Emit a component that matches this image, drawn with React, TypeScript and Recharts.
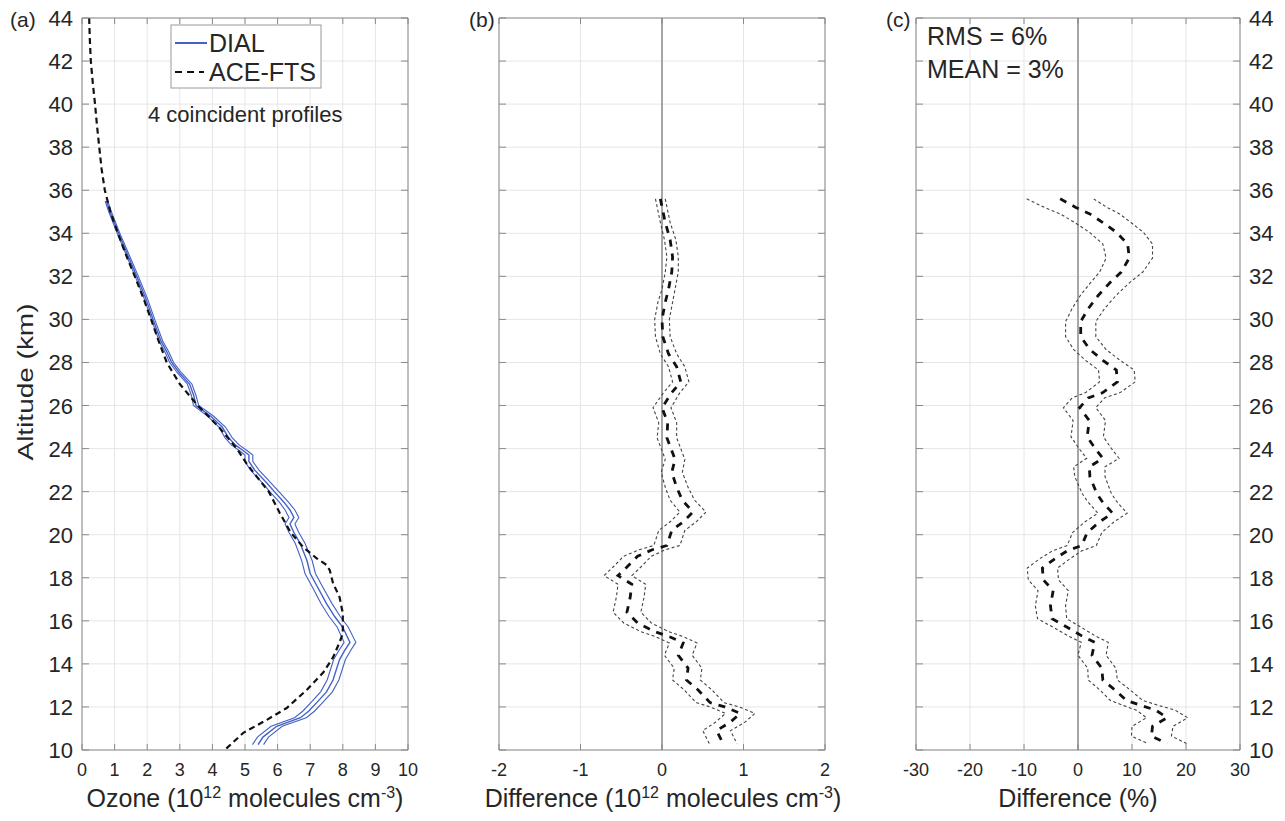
import React from 'react';
import { LineChart, Line, XAxis, YAxis, CartesianGrid, ReferenceLine } from 'recharts';

// ACE-FTS ozone profile (10^12 molecules cm^-3) vs altitude (km)
const aceAlt = [44, 43, 42, 41, 40, 39, 38, 37, 36, 35, 34, 33, 32, 31, 30, 29, 28, 27, 26, 25, 24, 23.3, 22.7, 22, 21, 20.1, 19.75, 19.4, 18.9, 18.6, 18.35, 17.75, 17.1, 16.35, 15.4, 15, 14.3, 13.6, 12.8, 11.95, 11.4, 10.8, 10.1, 10];
const aceOzone = [0.22, 0.24, 0.27, 0.33, 0.4, 0.46, 0.53, 0.6, 0.7, 0.87, 1.1, 1.35, 1.62, 1.88, 2.12, 2.35, 2.6, 3.0, 3.55, 4.2, 4.75, 5.05, 5.36, 5.73, 6.07, 6.4, 6.6, 6.8, 7.2, 7.5, 7.6, 7.7, 7.9, 8.0, 8.0, 7.9, 7.7, 7.4, 6.9, 6.28, 5.67, 4.95, 4.45, 4.4];

// DIAL mean profile and its uncertainty
const dialAlt = [35.5, 35, 34, 33, 32, 31, 30, 29, 28.5, 28, 27.5, 27, 26.5, 26, 25.5, 25, 24.5, 24.17, 23.9, 23.7, 23.4, 23, 22.4, 22, 21.5, 21.15, 20.8, 20.5, 20.1, 19.6, 18.8, 18.2, 17.5, 16.8, 16.2, 15.7, 15, 14.6, 14.2, 13.25, 12.7, 12.2, 11.8, 11.5, 11.1, 10.6, 10.25];
const dialOzone = [0.75, 0.86, 1.12, 1.4, 1.68, 1.95, 2.18, 2.42, 2.6, 2.75, 3.0, 3.3, 3.42, 3.5, 3.95, 4.3, 4.5, 4.7, 4.95, 5.12, 5.12, 5.3, 5.67, 5.9, 6.2, 6.38, 6.5, 6.38, 6.5, 6.69, 6.9, 7.0, 7.25, 7.5, 7.75, 8.0, 8.22, 8.05, 7.9, 7.7, 7.5, 7.2, 6.95, 6.7, 5.97, 5.55, 5.4];
const dialErr = [0.04, 0.04, 0.04, 0.045, 0.05, 0.05, 0.05, 0.055, 0.06, 0.06, 0.065, 0.07, 0.07, 0.08, 0.09, 0.1, 0.11, 0.12, 0.12, 0.12, 0.12, 0.13, 0.13, 0.14, 0.14, 0.15, 0.15, 0.15, 0.15, 0.15, 0.16, 0.16, 0.16, 0.17, 0.17, 0.17, 0.18, 0.18, 0.18, 0.18, 0.18, 0.18, 0.18, 0.18, 0.17, 0.17, 0.17];

// absolute difference DIAL - ACE-FTS
const diffAlt = [35.6, 34.5, 33.7, 32.9, 32.2, 31.4, 30.8, 30.0, 29.2, 28.4, 27.8, 27.1, 26.6, 25.9, 25.2, 24.5, 23.5, 22.9, 22.2, 21.6, 21.05, 20.6, 20.2, 19.5, 19.3, 19.0, 18.5, 18.1, 17.7, 17.1, 16.4, 15.9, 15.5, 15.25, 14.97, 14.4, 13.8, 13.25, 12.8, 12.2, 12.0, 11.7, 11.3, 10.9, 10.3];
const diffAbs = [-0.02, 0.04, 0.1, 0.13, 0.12, 0.08, 0.04, 0.0, 0.01, 0.08, 0.18, 0.23, 0.12, 0.0, 0.07, 0.06, 0.16, 0.12, 0.18, 0.25, 0.38, 0.26, 0.12, 0.06, -0.12, -0.3, -0.43, -0.54, -0.37, -0.39, -0.43, -0.3, -0.09, 0.1, 0.26, 0.2, 0.32, 0.3, 0.44, 0.59, 0.77, 0.96, 0.84, 0.67, 0.75];
const diffErr = [0.06, 0.06, 0.07, 0.07, 0.08, 0.08, 0.09, 0.09, 0.09, 0.1, 0.1, 0.1, 0.1, 0.11, 0.11, 0.12, 0.12, 0.13, 0.14, 0.15, 0.16, 0.16, 0.16, 0.16, 0.16, 0.17, 0.17, 0.17, 0.17, 0.17, 0.17, 0.17, 0.17, 0.17, 0.17, 0.17, 0.17, 0.17, 0.17, 0.17, 0.18, 0.18, 0.18, 0.17, 0.17];

// relative difference (%)
const pctAlt = [35.6, 35.2, 34.9, 34.5, 34.05, 33.5, 32.85, 32.2, 31.7, 31.1, 30.5, 29.9, 29.2, 28.6, 28.1, 27.65, 27.1, 26.6, 26.35, 25.9, 25.3, 24.55, 24.0, 23.55, 23.15, 22.7, 21.9, 21.5, 21.0, 20.6, 20.1, 19.5, 19.25, 18.9, 18.45, 17.9, 17.4, 16.7, 16.1, 15.7, 15.3, 15.0, 14.4, 13.8, 13.25, 12.8, 12.3, 12.05, 11.85, 11.5, 11.1, 10.65, 10.3];
const pctDiff = [-3.3, -0.4, 2.2, 4.6, 7.1, 9.2, 9.5, 8.0, 5.9, 3.7, 1.9, 0.5, 0.5, 2.2, 4.6, 7.1, 7.3, 4.6, 1.9, 0.3, 2.1, 1.7, 3.2, 4.6, 2.1, 2.2, 3.5, 4.6, 6.4, 4.0, 1.7, 0.7, -2.0, -4.2, -6.6, -6.4, -4.6, -5.1, -4.8, -2.0, 0.7, 3.1, 2.6, 4.4, 4.6, 6.8, 9.0, 11.9, 14.4, 16.5, 13.8, 13.6, 16.5];
const pctErr = [6.2, 5.8, 5.5, 5.2, 5.0, 4.6, 4.3, 4.0, 3.6, 3.3, 3.0, 2.8, 2.8, 3.0, 3.2, 3.3, 3.3, 3.2, 3.0, 3.0, 3.0, 3.0, 3.0, 3.0, 2.9, 2.8, 2.7, 2.7, 2.7, 2.7, 2.7, 2.7, 2.7, 2.8, 2.8, 2.8, 2.8, 2.8, 2.7, 2.6, 2.5, 2.5, 2.6, 2.6, 2.7, 2.8, 3.0, 3.3, 3.6, 3.8, 3.8, 3.7, 3.6];

const altTicks = [10, 12, 14, 16, 18, 20, 22, 24, 26, 28, 30, 32, 34, 36, 38, 40, 42, 44];
const ozoneTicks = [0, 1, 2, 3, 4, 5, 6, 7, 8, 9, 10];
const diffTicks = [-2, -1, 0, 1, 2];
const pctTicks = [-30, -20, -10, 0, 10, 20, 30];

const aceRows = aceAlt.map((alt, i) => ({ alt, v: aceOzone[i] }));
const dialRows = dialAlt.map((alt, i) => ({ alt, v: dialOzone[i], lo: dialOzone[i] - dialErr[i], hi: dialOzone[i] + dialErr[i] }));
const diffRows = diffAlt.map((alt, i) => ({ alt, v: diffAbs[i], lo: diffAbs[i] - diffErr[i], hi: diffAbs[i] + diffErr[i] }));
const pctRows = pctAlt.map((alt, i) => ({ alt, v: pctDiff[i], lo: pctDiff[i] - pctErr[i], hi: pctDiff[i] + pctErr[i] }));

const FONT = '"Liberation Sans", Arial, Helvetica, sans-serif';
const AXIS = '#8a8a8a';
const GRID = '#e6e6e6';
const TXT = '#262626';
const BLUE = '#4361c6';

// inward MATLAB-style ticks, drawn from the axis positions recharts hands us
const bottomTick = (label: boolean) => (p: any) => (
  <g>
    <line x1={p.x} y1={p.y} x2={p.x} y2={p.y - 6} stroke={AXIS} />
    {label && (
      <text x={p.x} y={p.y + 26} textAnchor="middle" fontSize={18} fill={TXT} fontFamily={FONT}>
        {p.payload.value}
      </text>
    )}
  </g>
);
const topTick = (p: any) => <line x1={p.x} y1={p.y} x2={p.x} y2={p.y + 6} stroke={AXIS} />;
const leftTick = (label: boolean) => (p: any) => (
  <g>
    <line x1={p.x} y1={p.y} x2={p.x + 7} y2={p.y} stroke={AXIS} />
    {label && (
      <text x={p.x - 9} y={p.y + 8} textAnchor="end" fontSize={22} fill={TXT} fontFamily={FONT}>
        {p.payload.value}
      </text>
    )}
  </g>
);
const rightTick = (label: boolean) => (p: any) => (
  <g>
    <line x1={p.x} y1={p.y} x2={p.x - 7} y2={p.y} stroke={AXIS} />
    {label && (
      <text x={p.x + 9} y={p.y + 8} textAnchor="start" fontSize={22} fill={TXT} fontFamily={FONT}>
        {p.payload.value}
      </text>
    )}
  </g>
);

// grid + four framing axes (recharts skips an axis of zero size, hence height/width 1)
function Frame(xDomain: number[], xTicks: number[], leftW: number, rightW: number, leftLabels: boolean, rightLabels: boolean) {
  return [
    <CartesianGrid key="grid" stroke={GRID} />,
    <XAxis key="xb" type="number" domain={xDomain} ticks={xTicks} interval={0} height={1} tickSize={0} tickMargin={0}
      tickLine={false} axisLine={{ stroke: AXIS }} tick={bottomTick(true)} allowDataOverflow />,
    <XAxis key="xt" xAxisId="top" orientation="top" type="number" domain={xDomain} ticks={xTicks} interval={0} height={1}
      tickSize={0} tickMargin={0} tickLine={false} axisLine={{ stroke: AXIS }} tick={topTick} allowDataOverflow />,
    <YAxis key="yl" type="number" dataKey="alt" reversed domain={[10, 44]} ticks={altTicks} interval={0} width={leftW} tickSize={0}
      tickMargin={0} tickLine={false} axisLine={{ stroke: AXIS }} tick={leftTick(leftLabels)} allowDataOverflow />,
    <YAxis key="yr" yAxisId="right" orientation="right" type="number" dataKey="alt" reversed domain={[10, 44]} ticks={altTicks}
      interval={0} width={rightW} tickSize={0} tickMargin={0} tickLine={false} axisLine={{ stroke: AXIS }}
      tick={rightTick(rightLabels)} allowDataOverflow />,
  ];
}

export default function App() {
  return (
    <div style={{ position: 'absolute', left: 0, top: 0, width: 1285, height: 821, background: '#fff', fontFamily: FONT }}>
      {/* (a) ozone profiles */}
      <div style={{ position: 'absolute', left: 0, top: 0 }}>
        <LineChart layout="vertical" width={430} height={821} margin={{ top: 17, right: 21, bottom: 70, left: 0 }}>
          {Frame([0, 10], ozoneTicks, 82, 1, true, false)}
          <Line data={dialRows} dataKey="lo" stroke={BLUE} strokeWidth={1.1} dot={false} activeDot={false} isAnimationActive={false} />
          <Line data={dialRows} dataKey="hi" stroke={BLUE} strokeWidth={1.1} dot={false} activeDot={false} isAnimationActive={false} />
          <Line data={dialRows} dataKey="v" stroke={BLUE} strokeWidth={1.4} dot={false} activeDot={false} isAnimationActive={false} />
          <Line data={aceRows} dataKey="v" stroke="#111" strokeWidth={2.2} strokeDasharray="6 4" dot={false} activeDot={false} isAnimationActive={false} />
        </LineChart>
      </div>

      {/* (b) absolute difference */}
      <div style={{ position: 'absolute', left: 440, top: 0 }}>
        <LineChart layout="vertical" width={410} height={821} margin={{ top: 17, right: 24, bottom: 70, left: 0 }}>
          {Frame([-2, 2], diffTicks, 59, 1, false, false)}
          <ReferenceLine x={0} stroke="#8c8c8c" strokeWidth={1.5} />
          <Line data={diffRows} dataKey="lo" stroke="#444" strokeWidth={1.1} strokeDasharray="3 2.5" dot={false} activeDot={false} isAnimationActive={false} />
          <Line data={diffRows} dataKey="hi" stroke="#444" strokeWidth={1.1} strokeDasharray="3 2.5" dot={false} activeDot={false} isAnimationActive={false} />
          <Line data={diffRows} dataKey="v" stroke="#111" strokeWidth={2.8} strokeDasharray="7 7" dot={false} activeDot={false} isAnimationActive={false} />
        </LineChart>
      </div>

      {/* (c) relative difference */}
      <div style={{ position: 'absolute', left: 860, top: 0 }}>
        <LineChart layout="vertical" width={425} height={821} margin={{ top: 17, right: 0, bottom: 70, left: 0 }}>
          {Frame([-30, 30], pctTicks, 56, 45, false, true)}
          <ReferenceLine x={0} stroke="#8c8c8c" strokeWidth={1.5} />
          <Line data={pctRows} dataKey="lo" stroke="#444" strokeWidth={1.1} strokeDasharray="3 2.5" dot={false} activeDot={false} isAnimationActive={false} />
          <Line data={pctRows} dataKey="hi" stroke="#444" strokeWidth={1.1} strokeDasharray="3 2.5" dot={false} activeDot={false} isAnimationActive={false} />
          <Line data={pctRows} dataKey="v" stroke="#111" strokeWidth={2.8} strokeDasharray="7 7" dot={false} activeDot={false} isAnimationActive={false} />
        </LineChart>
      </div>

      {/* labels, legend and notes */}
      <svg width={1285} height={821} style={{ position: 'absolute', left: 0, top: 0, pointerEvents: 'none' }} fontFamily={FONT} fill={TXT}>
        <text x={10} y={27} fontSize={21}>(a)</text>
        <text x={469} y={27} fontSize={21}>(b)</text>
        <text x={886} y={27} fontSize={21}>(c)</text>

        <rect x={171} y={25} width={150} height={63} fill="#fff" stroke="#9a9a9a" />
        <line x1={175} y1={43} x2={207} y2={43} stroke={BLUE} strokeWidth={2} />
        <text x={209} y={52} fontSize={25}>DIAL</text>
        <line x1={175} y1={72} x2={204} y2={72} stroke="#111" strokeWidth={2.2} strokeDasharray="7 5" />
        <text x={209} y={81} fontSize={25}>ACE-FTS</text>
        <text x={148} y={122} fontSize={22}>4 coincident profiles</text>

        <text x={927} y={45} fontSize={25}>RMS = 6%</text>
        <text x={927} y={78} fontSize={25}>MEAN = 3%</text>

        <text transform="translate(33,382) rotate(-90)" textAnchor="middle" fontSize={22} textLength={157} lengthAdjust="spacingAndGlyphs">
          Altitude (km)
        </text>

        <text x={245} y={807} textAnchor="middle" fontSize={25}>
          Ozone (10<tspan dy={-9} fontSize={16}>12</tspan><tspan dy={9}> molecules cm</tspan><tspan dy={-9} fontSize={16}>-3</tspan><tspan dy={9}>)</tspan>
        </text>
        <text x={663} y={807} textAnchor="middle" fontSize={25}>
          Difference (10<tspan dy={-9} fontSize={16}>12</tspan><tspan dy={9}> molecules cm</tspan><tspan dy={-9} fontSize={16}>-3</tspan><tspan dy={9}>)</tspan>
        </text>
        <text x={1078} y={807} textAnchor="middle" fontSize={25}>Difference (%)</text>
      </svg>
    </div>
  );
}
